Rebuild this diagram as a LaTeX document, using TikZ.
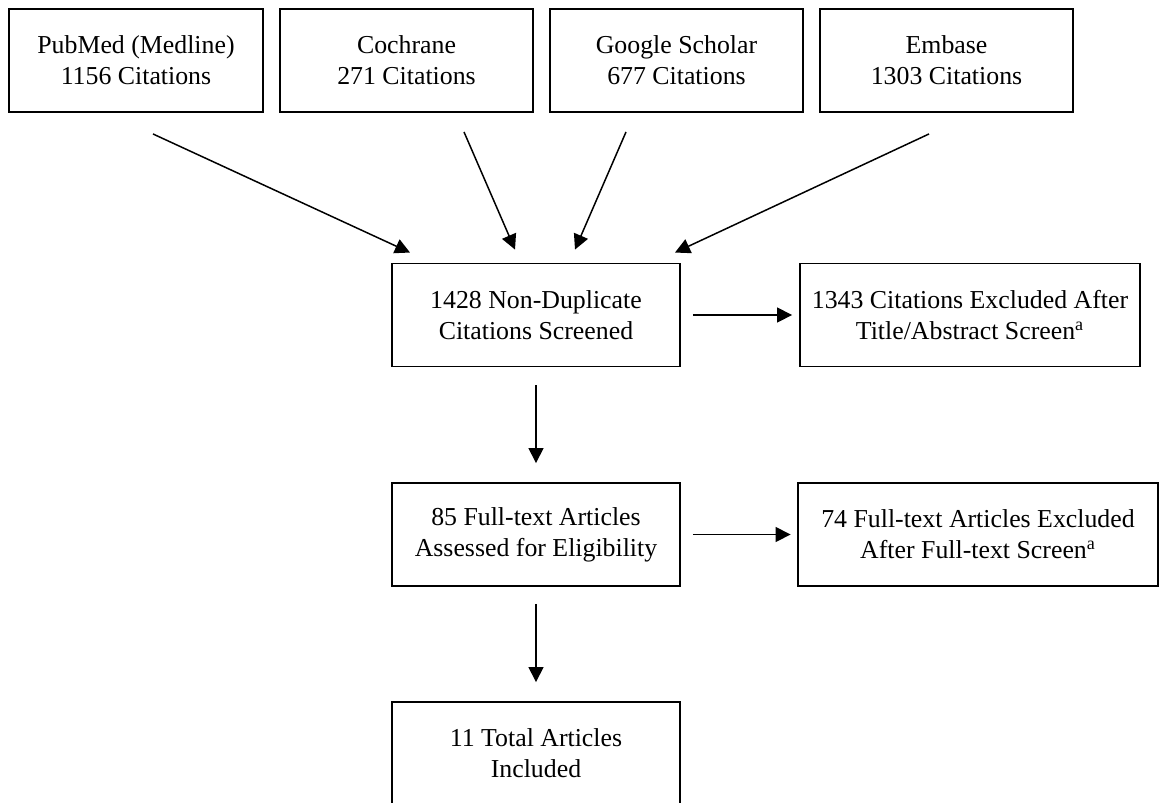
\documentclass[tikz,border=0pt]{standalone}
\usepackage{fontspec}
\setmainfont{Liberation Serif}
\usetikzlibrary{arrows.meta, positioning, calc}

\tikzset{
  box/.style={draw, line width=1.1pt, minimum height=2.06cm, align=center, inner sep=2pt,
    font=\fontsize{14.7}{17.6}\selectfont},
  flow/.style={-{Triangle[length=0.3cm, width=0.3cm]}, line width=0.85pt},
}

\begin{document}
\begin{tikzpicture}[x=0.02cm, y=-0.02cm]
  \clip (0,0) rectangle (1160,802);
  \fill[white] (0,0) rectangle (1160,802);
  % Sources
  \node[box, minimum width=5.08cm] (pubmed) at (136,60.5) {PubMed (Medline)\\1156 Citations};
  \node[box, minimum width=5.06cm] (cochrane) at (406.5,60.5) {Cochrane\\271 Citations};
  \node[box, minimum width=5.06cm] (scholar) at (676.5,60.5) {Google Scholar\\677 Citations};
  \node[box, minimum width=5.06cm] (embase) at (946.5,60.5) {Embase\\1303 Citations};
  % Screening steps
  \node[box, minimum width=5.76cm] (screened) at (536,315) {1428 Non-Duplicate\\Citations Screened};
  \node[box, minimum width=6.8cm] (exclabs) at (970,315) {1343 Citations Excluded After\\Title/Abstract Screen\textsuperscript{a}};
  \node[box, minimum width=5.76cm] (fulltext) at (536,534.5) {85 Full-text Articles\\Assessed for Eligibility};
  \node[box, minimum width=7.2cm] (exclfull) at (978,534.5) {74 Full-text Articles Excluded\\After Full-text Screen\textsuperscript{a}};
  \node[box, minimum width=5.76cm] (included) at (536,753.5) {11 Total Articles\\Included};

  \draw[flow] ($(pubmed.south)+(17,21)$) -- ($(screened.north)+(-126,-10)$);
  \draw[flow] ($(cochrane.south)+(57.5,19)$) -- ($(screened.north)+(-21,-13)$);
  \draw[flow] ($(scholar.south)+(-50.5,19)$) -- ($(screened.north)+(39,-13)$);
  \draw[flow] ($(embase.south)+(-17.5,21)$) -- ($(screened.north)+(139,-10)$);
  \draw[flow, shorten <=0.24cm, shorten >=0.14cm] (screened.east) -- (exclabs.west);
  \draw[flow, shorten <=0.36cm, shorten >=0.38cm] (screened.south) -- (fulltext.north);
  \draw[flow, shorten <=0.24cm, shorten >=0.13cm] (fulltext.east) -- (exclfull.west);
  \draw[flow, shorten <=0.34cm, shorten >=0.38cm] (fulltext.south) -- (included.north);
\end{tikzpicture}
\end{document}
